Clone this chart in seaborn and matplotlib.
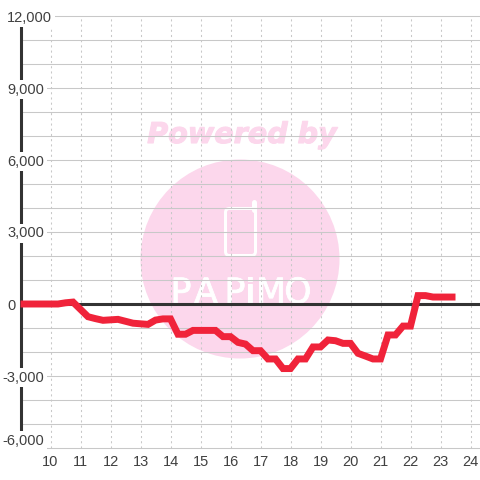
import pandas as pd
import seaborn as sns
import matplotlib.pyplot as plt
import matplotlib.patheffects as pe
from matplotlib.patches import Circle, FancyBboxPatch
from matplotlib.lines import Line2D
from matplotlib.transforms import IdentityTransform

hours = [9, 9.5, 10, 10.25, 10.5, 10.75, 11.25, 11.5, 11.75, 12.25, 12.75, 13.25, 13.5, 13.75, 14,
         14.25, 14.5, 14.75, 15, 15.5, 15.75, 16, 16.25, 16.5, 16.75, 17, 17.25, 17.5, 17.75, 18,
         18.25, 18.5, 18.75, 19, 19.25, 19.5, 19.75, 20, 20.25, 20.5, 20.75, 21, 21.25, 21.5,
         21.75, 22, 22.25, 22.5, 22.75, 23, 23.5]
values = [0, 0, 0, 0, 50, 80, -530, -610, -680, -640, -800, -850, -670, -620, -620,
          -1260, -1260, -1100, -1100, -1100, -1360, -1360, -1600, -1670, -1945, -1945, -2290, -2290, -2690, -2690,
          -2290, -2290, -1790, -1790, -1500, -1530, -1640, -1640, -2055, -2170, -2290, -2290, -1290, -1290,
          -920, -920, 350, 350, 290, 290, 290]
x_ticks = list(range(10, 25))
y_ticks = [-6000, -3000, 0, 3000, 6000, 9000, 12000]
y_labels = ['-6,000', '-3,000', '0', '3,000', '6,000', '9,000', '12,000']
y_grid = list(range(-6000, 13000, 1000))

df = pd.DataFrame({'hour': hours, 'value': values})

sns.set_style('white')
plt.rcParams['font.family'] = ['Liberation Sans', 'DejaVu Sans']

fig = plt.figure(figsize=(4.8, 4.8), dpi=100)
ax = fig.add_axes([20.5 / 480, 32 / 480, 459.5 / 480, 432 / 480])
ax.patch.set_visible(False)

# watermark sits behind the axes, placed in pixels
px = IdentityTransform()
pink = '#fcd7ec'
fig.add_artist(Circle((240, 221), 99.5, color=pink, lw=0, transform=px, zorder=-2))
fig.text(242 / 480, 345 / 480, 'Powered by', color=pink, fontsize=20.6, fontweight='bold', fontstyle='italic',
         family='DejaVu Sans', ha='center', va='center', zorder=-1,
         path_effects=[pe.withStroke(linewidth=0.8, foreground=pink)])
fig.add_artist(FancyBboxPatch((225.5, 224.5), 30, 47, boxstyle='round,pad=0,rounding_size=4', fc='none', ec='white',
                              lw=2.16, transform=px, zorder=-1))
fig.add_artist(Line2D([254, 254], [270, 278], color='white', lw=3.6, solid_capstyle='round', transform=px, zorder=-1))
for letter, lx in zip('PAPiMO', [181, 206, 235, 250, 271, 298]):
    fig.text(lx / 480, 177 / 480, letter, color='white', fontsize=25, family='Liberation Sans Narrow',
             ha='center', va='baseline', zorder=-1,
             path_effects=[pe.withStroke(linewidth=0.6, foreground='white')])

sns.lineplot(x='hour', y='value', data=df, color='#f0233a', lw=5, ax=ax, zorder=5, clip_on=False,
             solid_joinstyle='miter', solid_capstyle='butt')
ax.axhline(0, color='#333333', lw=2.2, zorder=4)

ax.set_xlim(9, 9 + 459.5 / 30)
ax.set_ylim(-6000, 12000)
ax.set_xticks(x_ticks)
ax.set_yticks(y_ticks)
ax.set_yticklabels(y_labels)
ax.set_xlabel('')
ax.set_ylabel('')

# horizontal lines go under the spine, the tick label boxes cover both
ax.hlines(y_grid, 9, 9 + 459.5 / 30, color='#c8c8c8', lw=0.75, zorder=1, clip_on=False)
ax.grid(True, which='major', axis='x', color='#c8c8c8', lw=0.75, ls=(0, (2, 3)))
ax.set_axisbelow(False)
ax.tick_params(which='both', length=0)
ax.tick_params(axis='x', pad=5, labelsize=10.5, labelcolor='#404040')
ax.tick_params(axis='y', labelsize=10.5, labelcolor='#404040')

for s in ['top', 'right', 'bottom']:
    ax.spines[s].set_visible(False)
ax.spines['left'].set_color('#333333')
ax.spines['left'].set_linewidth(2.2)

for tick, lab in zip(ax.yaxis.get_major_ticks(), y_labels):
    # labels start at a fixed left edge, negative ones a bit further out
    tick.set_pad(12.7 if lab.startswith('-') else 9.7)
    tick.label1.set_ha('left')
    tick.label1.set_bbox(dict(fc='white', ec='none', pad=2))
    if lab == '-6,000':
        tick.label1.set_va('bottom')

fig.savefig('out.png', dpi=100)
